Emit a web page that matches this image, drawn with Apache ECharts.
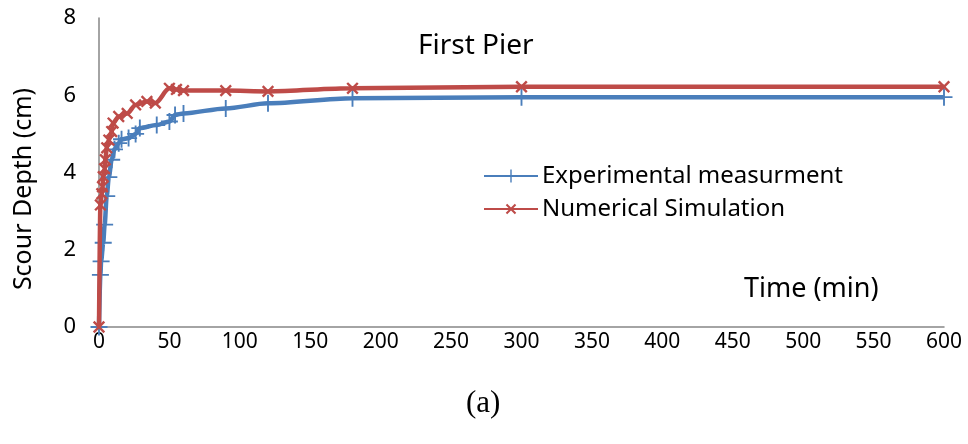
<!DOCTYPE html>
<html>
<head>
<meta charset="utf-8">
<script src="https://cdn.jsdelivr.net/npm/echarts@6/dist/echarts.min.js"></script>
<style>html,body{margin:0;padding:0;background:#fff}#c{width:968px;height:444px}</style>
</head>
<body>
<div id="c"></div>
<script>
var expTime = [0, 1, 1.5, 3, 4, 5.5, 7, 9, 11, 14, 16, 21, 26, 29, 41, 50, 54, 60, 90, 120, 180, 300, 600];
var expDepth = [0, 1.35, 1.7, 2.18, 2.65, 3.39, 3.88, 4.33, 4.6, 4.76, 4.86, 4.89, 5.0, 5.15, 5.23, 5.32, 5.49, 5.53, 5.66, 5.79, 5.92, 5.95, 5.95];
var numTime = [0, 1, 2, 2.5, 3, 4, 4.5, 5.5, 7, 9, 10, 14, 20, 26, 34, 40, 50, 55, 60, 90, 120, 180, 300, 600];
var numDepth = [0, 3.16, 3.45, 3.63, 3.89, 4.1, 4.33, 4.64, 4.84, 5.06, 5.28, 5.45, 5.53, 5.75, 5.84, 5.8, 6.18, 6.15, 6.12, 6.12, 6.1, 6.18, 6.22, 6.22];
var xTicks = [0, 50, 100, 150, 200, 250, 300, 350, 400, 450, 500, 550, 600];
var yTicks = [0, 2, 4, 6, 8];
var seriesNames = ['Experimental measurment', 'Numerical Simulation'];

function pairs(t, d) { return t.map(function (v, i) { return [v, d[i]]; }); }

var plusPath = 'path://M-1.1,-10 L1.1,-10 L1.1,-1.1 L10,-1.1 L10,1.1 L1.1,1.1 L1.1,10 L-1.1,10 L-1.1,1.1 L-10,1.1 L-10,-1.1 L-1.1,-1.1 Z';
var crossPath = 'path://M-1.6,-10 L1.6,-10 L1.6,-1.6 L10,-1.6 L10,1.6 L1.6,1.6 L1.6,10 L-1.6,10 L-1.6,1.6 L-10,1.6 L-10,-1.6 L-1.6,-1.6 Z';

var chart = echarts.init(document.getElementById('c'), null, { renderer: 'canvas' });
var font = '"Noto Sans", sans-serif';
chart.setOption({
  animation: false,
  grid: { left: 99, right: 24, top: 18, bottom: 117, containLabel: false },
  xAxis: {
    type: 'value', min: xTicks[0], max: xTicks[xTicks.length - 1], interval: 50,
    axisLine: { show: true, lineStyle: { color: '#868686', width: 1.5 } },
    axisTick: { show: false },
    splitLine: { show: false },
    axisLabel: { color: '#000', fontFamily: font, fontSize: 21, margin: 5 }
  },
  yAxis: {
    type: 'value', min: yTicks[0], max: yTicks[yTicks.length - 1], interval: 2,
    axisLine: { show: true, lineStyle: { color: '#868686', width: 1.5 } },
    axisTick: { show: false },
    splitLine: { show: false },
    axisLabel: { color: '#000', fontFamily: font, fontSize: 22, margin: 23 }
  },
  legend: {
    orient: 'vertical', left: 483, top: 164, padding: 0, itemWidth: 54, itemHeight: 16, itemGap: 9,
    textStyle: { color: '#000', fontFamily: font, fontSize: 24, padding: [0, 0, 0, -1] },
    data: seriesNames
  },
  graphic: [
    { type: 'text', left: 418, top: 32, style: { text: 'First Pier', font: '28px "Noto Sans"', fill: '#000' } },
    { type: 'text', left: 744, top: 276, style: { text: 'Time (min)', font: '27px "Noto Sans"', fill: '#000' } },
    { type: 'text', left: 466, top: 388, style: { text: '(a)', font: '31px "Liberation Serif"', fill: '#000' } },
    { type: 'text', x: 11, y: 189, rotation: Math.PI / 2, style: { text: 'Scour Depth (cm)', font: '25px "Noto Sans"', fill: '#000', align: 'center', verticalAlign: 'top' } }
  ],
  series: [
    {
      name: seriesNames[0], type: 'line', data: pairs(expTime, expDepth),
      smooth: 0.3, smoothMonotone: 'x',
      symbol: plusPath, symbolSize: 17, showAllSymbol: true,
      lineStyle: { color: '#4a7ebb', width: 4.5 },
      itemStyle: { color: '#4a7ebb' }, z: 2
    },
    {
      name: seriesNames[1], type: 'line', data: pairs(numTime, numDepth),
      smooth: 0.3, smoothMonotone: 'x',
      symbol: crossPath, symbolSize: 15, symbolRotate: 45, showAllSymbol: true,
      lineStyle: { color: '#be4b48', width: 4.5 },
      itemStyle: { color: '#be4b48' }, z: 3
    }
  ]
});
</script>
</body>
</html>
